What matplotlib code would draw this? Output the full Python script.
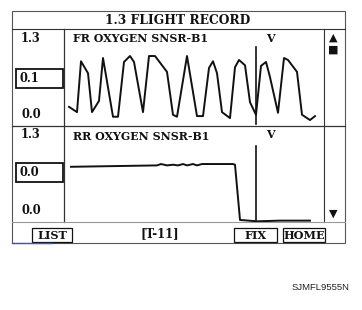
import matplotlib
matplotlib.use("Agg")
import matplotlib.pyplot as plt
from matplotlib.patches import Rectangle

# Front sensor (FR OXYGEN SNSR-B1) voltage trace
fr_time = [5, 13, 17, 24, 28, 35, 39, 49, 54, 60, 66, 70, 79, 85, 91, 103, 109, 113,
           123, 133, 139, 145, 149, 153, 158, 166, 171, 175, 181, 186, 192, 197, 202,
           206, 214, 220, 224, 233, 238, 246, 251]
fr_volts = [0.23, 0.15, 0.92, 0.74, 0.15, 0.32, 0.97, 0.08, 0.08, 0.91, 1.00, 0.91, 0.15,
            1.00, 1.00, 0.76, 0.11, 0.08, 1.00, 0.09, 0.09, 0.82, 0.92, 0.74, 0.15, 0.06,
            0.83, 0.94, 0.86, 0.30, 0.11, 0.85, 0.91, 0.68, 0.14, 0.97, 0.94, 0.76, 0.11,
            0.03, 0.09]

# Rear sensor (RR OXYGEN SNSR-B1) voltage trace
rr_time = [7, 93, 97, 103, 109, 114, 119, 123, 126, 129, 133, 138, 169, 171, 176, 193, 216, 246]
rr_volts = [0.80, 0.82, 0.84, 0.82, 0.83, 0.82, 0.84, 0.82, 0.83, 0.84, 0.82, 0.84, 0.84,
            0.83, 0.03, 0.01, 0.02, 0.02]

cursor_time = 192
panel_titles = ["FR OXYGEN SNSR-B1", "RR OXYGEN SNSR-B1"]
scale_top = ["1.3", "1.3"]
scale_bottom = ["0.0", "0.0"]
cursor_values = ["0.1", "0.0"]
buttons = ["LIST", "FIX", "HOME"]
record_id = "[T-11]"
screen_title = "1.3 FLIGHT RECORD"
figure_code = "SJMFL9555N"

fig = plt.figure(figsize=(3.62, 3.10), dpi=100)
fig.patch.set_facecolor("white")

# overlay in pixel coords for the screen frame
ov = fig.add_axes([0, 0, 1, 1])
ov.set_xlim(0, 362)
ov.set_ylim(310, 0)
ov.axis("off")

serif = dict(family="DejaVu Serif", fontweight="bold", color="#111111")
frame = "#333333"

ov.add_patch(Rectangle((12, 11), 333, 232, fill=False, ec="#555555", lw=0.8))
ov.plot([12, 345], [29, 29], color=frame, lw=0.8)
ov.plot([64, 64], [29, 222], color=frame, lw=0.9)
ov.plot([324, 324], [29, 222], color=frame, lw=0.8)
ov.plot([12, 345], [126, 126], color=frame, lw=0.9)
ov.plot([12, 345], [222, 222], color="#999999", lw=0.8)
ov.plot([12, 52], [243, 243], color="#3a5aa8", lw=1.0)

ov.text(178, 20, screen_title, ha="center", va="center", fontsize=8.8, **serif)

row_y = [(38, 78, 115), (135, 173, 210)]
box_y = [69, 163]
for i in range(2):
    ytop, ybox, ybot = row_y[i]
    ov.text(21, ytop, scale_top[i], ha="left", va="center", fontsize=8.3, **serif)
    ov.text(21, ybot, scale_bottom[i], ha="left", va="center", fontsize=8.3, **serif)
    ov.add_patch(Rectangle((16, box_y[i]), 47, 19, fill=False, ec="#111111", lw=1.3))
    ov.text(19, ybox, cursor_values[i], ha="left", va="center", fontsize=8.3, **serif)
    ov.text(73, ytop + 1, panel_titles[i], ha="left", va="center", fontsize=7.9, **serif)
    ov.text(270, ytop, "V", ha="center", va="center", fontsize=7.9, **serif)

ov.text(333, 38, "\u25b2", ha="center", va="center", fontsize=8, color="#111111")
ov.text(333, 50, "\u25a0", ha="center", va="center", fontsize=8, color="#111111")
ov.text(333, 214, "\u25bc", ha="center", va="center", fontsize=8, color="#111111")

btn_x = [(32, 72), (234, 277), (283, 325)]
for label, (x0, x1) in zip(buttons, btn_x):
    ov.add_patch(Rectangle((x0, 228), x1 - x0, 14, fill=False, ec="#111111", lw=0.9))
    ov.text((x0 + x1) / 2, 235.5, label, ha="center", va="center", fontsize=8.1, **serif)
ov.text(160, 234, record_id, ha="center", va="center", fontsize=8.4, **serif)

ov.text(349, 288, figure_code, ha="right", va="center", fontsize=6.8,
        family="Liberation Sans", color="#222222")

# data panels
def panel(left, top, bottom, right):
    W, H = 362, 310
    return fig.add_axes([left / W, 1 - bottom / H, (right - left) / W, (bottom - top) / H])

ax1 = panel(64, 30, 126, 323)
ax1.plot(fr_time, fr_volts, color="#111111", lw=1.4)
ax1.axvline(cursor_time, ymin=0.02, ymax=0.82, color="#111111", lw=1.2)
ax1.set_xlim(0, 259)
ax1.set_ylim(-0.06, 1.394)

ax2 = panel(64, 126, 222, 323)
ax2.plot(rr_time, rr_volts, color="#111111", lw=1.4)
ax2.axvline(cursor_time, ymin=0.02, ymax=0.79, color="#111111", lw=1.2)
ax2.set_xlim(0, 259)
ax2.set_ylim(0, 1.391)

for ax in (ax1, ax2):
    ax.set_facecolor("none")
    ax.axis("off")

fig.savefig("out.png", dpi=100)
